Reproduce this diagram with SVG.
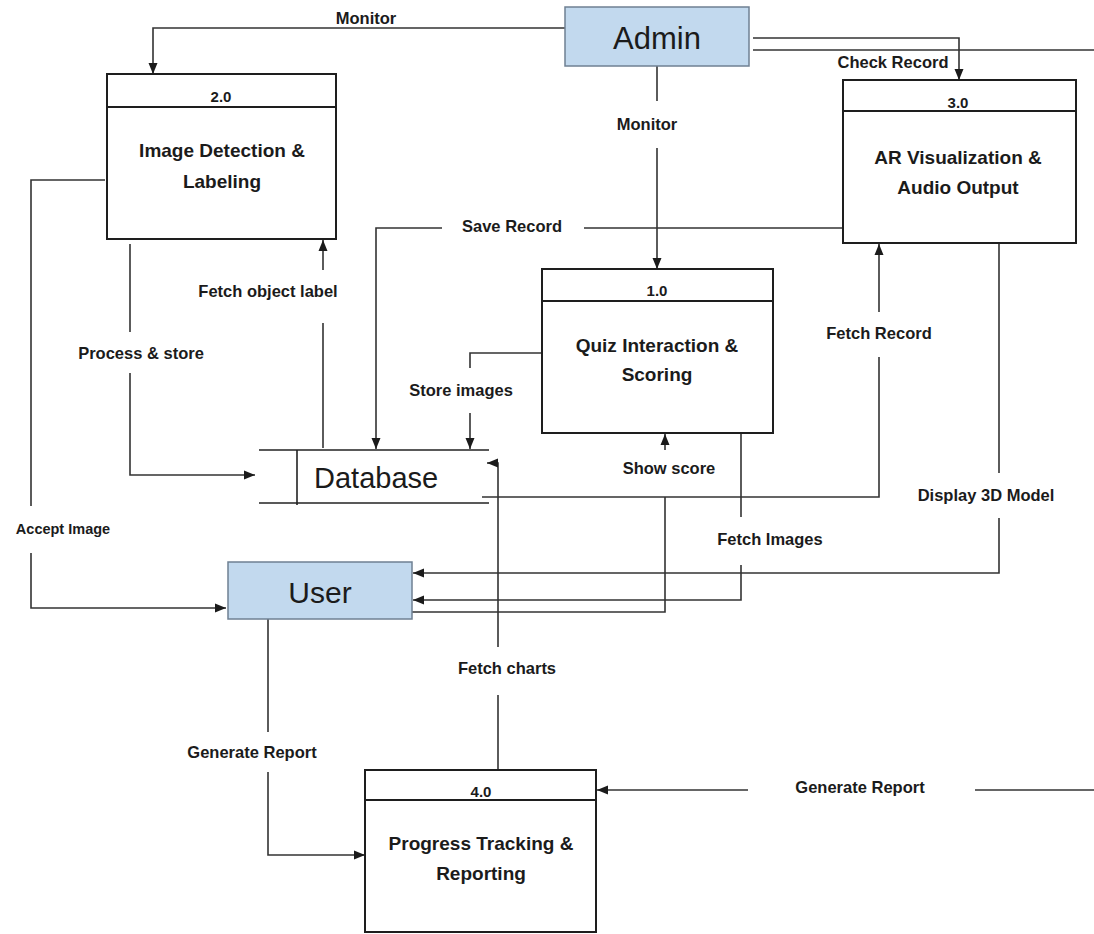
<svg xmlns="http://www.w3.org/2000/svg" width="1094" height="934" viewBox="0 0 1094 934">
<style>
.proc{fill:#fff;stroke:#1e1e1e;stroke-width:2}
.hdr{stroke:#1e1e1e;stroke-width:2}
.ent{fill:#c2d9ee;stroke:#6f8093;stroke-width:1.5}
.entt{font-family:"Liberation Sans",Arial,sans-serif;fill:#1b1b1b;text-anchor:middle}
.num{font-family:"Liberation Sans",Arial,sans-serif;font-weight:bold;font-size:15px;fill:#1b1b1b;text-anchor:middle}
.ttl{font-family:"Liberation Sans",Arial,sans-serif;font-weight:bold;font-size:19px;fill:#1b1b1b;text-anchor:middle}
.lbl{font-family:"Liberation Sans",Arial,sans-serif;font-weight:bold;font-size:16.5px;fill:#1b1b1b;text-anchor:middle}
.ln{fill:none;stroke:#333;stroke-width:1.6}
.ar{fill:none;stroke:#333;stroke-width:1.6;marker-end:url(#ah)}
.db{stroke:#222;stroke-width:1.6}
</style>
<defs>
<marker id="ah" markerUnits="userSpaceOnUse" markerWidth="12" markerHeight="12" viewBox="0 0 12 12" refX="11" refY="6" orient="auto">
<path d="M0,1.5 L11,6 L0,10.5 Z" fill="#1b1b1b"/>
</marker>
</defs>

<g id="connectors">
<!-- Monitor: Admin -> 2.0 -->
<path class="ar" d="M565,28 H153 V74"/>
<text class="lbl" x="366" y="24">Monitor</text>
<!-- Check Record: Admin -> 3.0 -->
<path class="ar" d="M753,38 H959 V80"/>
<text class="lbl" x="893" y="68">Check Record</text>
<path class="ln" d="M753,50 H1094"/>
<!-- Monitor: Admin -> 1.0 -->
<path class="ln" d="M657,66 V101"/>
<text class="lbl" x="647" y="130">Monitor</text>
<path class="ar" d="M657,148 V269"/>
<!-- Save Record: 3.0 -> Database -->
<path class="ln" d="M843,228 H584"/>
<text class="lbl" x="512" y="232">Save Record</text>
<path class="ar" d="M442,228 H376 V449"/>
<!-- Store images: 1.0 -> Database -->
<path class="ln" d="M542,353 H470 V368"/>
<text class="lbl" x="461" y="396">Store images</text>
<path class="ar" d="M470,413 V449"/>
<!-- Process & store: 2.0 -> Database -->
<path class="ln" d="M130,244 V332"/>
<text class="lbl" x="141" y="359">Process &amp; store</text>
<path class="ar" d="M130,373 V475 H255"/>
<!-- Fetch object label: Database -> 2.0 -->
<path class="ln" d="M323,448 V323"/>
<text class="lbl" x="268" y="297">Fetch object label</text>
<path class="ar" d="M323,270 V240"/>
<!-- Accept Image: 2.0 -> User -->
<path class="ln" d="M105,180 H31 V506"/>
<text class="lbl" x="63" y="534" style="font-size:14.5px">Accept Image</text>
<path class="ar" d="M31,553 V608 H226"/>
<!-- Fetch Record: Database -> 3.0 -->
<path class="ln" d="M482,497 H879 V357"/>
<text class="lbl" x="879" y="339">Fetch Record</text>
<path class="ar" d="M879,312 V244"/>
<!-- Display 3D Model: 3.0 -> User -->
<path class="ln" d="M999,244 V473"/>
<text class="lbl" x="986" y="501">Display 3D Model</text>
<path class="ar" d="M999,518 V573 H413"/>
<!-- Fetch Images: 1.0 -> User -->
<path class="ln" d="M741,432 V517"/>
<text class="lbl" x="770" y="545">Fetch Images</text>
<path class="ar" d="M741,565 V600 H413"/>
<!-- Show score: User -> 1.0 -->
<path class="ln" d="M412,612 H665 V497"/>
<text class="lbl" x="669" y="474">Show score</text>
<path class="ar" d="M665,450 V434"/>
<!-- Fetch charts: 4.0 -> Database -->
<path class="ln" d="M498,770 V695"/>
<text class="lbl" x="507" y="674">Fetch charts</text>
<path class="ar" d="M498,647 V463 H487"/>
<!-- Generate Report: User -> 4.0 -->
<path class="ln" d="M268,619 V732"/>
<text class="lbl" x="252" y="758">Generate Report</text>
<path class="ar" d="M268,772 V855 H365"/>
<!-- Generate Report: right -> 4.0 -->
<path class="ln" d="M1094,790 H975"/>
<text class="lbl" x="860" y="793">Generate Report</text>
<path class="ar" d="M748,790 H597"/>
</g>

<g id="admin">
<rect class="ent" x="565" y="7" width="184" height="59"/>
<text class="entt" x="657" y="49" font-size="31">Admin</text>
</g>

<g id="user">
<rect class="ent" x="228" y="562" width="184" height="57"/>
<text class="entt" x="320" y="603" font-size="30">User</text>
</g>

<g id="database">
<line class="db" x1="259" y1="450" x2="489" y2="450"/>
<line class="db" x1="259" y1="503" x2="489" y2="503"/>
<line class="db" x1="297" y1="450" x2="297" y2="505"/>
<text x="314" y="488" font-family="Liberation Sans, Arial, sans-serif" font-size="29" fill="#1b1b1b">Database</text>
</g>

<g id="p2">
<rect class="proc" x="107" y="74" width="229" height="165"/>
<line class="hdr" x1="107" y1="107" x2="336" y2="107"/>
<text class="num" x="221" y="102">2.0</text>
<text class="ttl" x="222" y="157">Image Detection &amp;</text>
<text class="ttl" x="222" y="188">Labeling</text>
</g>

<g id="p3">
<rect class="proc" x="843" y="80" width="233" height="163"/>
<line class="hdr" x1="843" y1="111" x2="1076" y2="111"/>
<text class="num" x="958" y="108">3.0</text>
<text class="ttl" x="958" y="164">AR Visualization &amp;</text>
<text class="ttl" x="958" y="194">Audio Output</text>
</g>

<g id="p1">
<rect class="proc" x="542" y="269" width="231" height="164"/>
<line class="hdr" x1="542" y1="301" x2="773" y2="301"/>
<text class="num" x="657" y="296">1.0</text>
<text class="ttl" x="657" y="352">Quiz Interaction &amp;</text>
<text class="ttl" x="657" y="381">Scoring</text>
</g>

<g id="p4">
<rect class="proc" x="365" y="770" width="231" height="162"/>
<line class="hdr" x1="365" y1="800" x2="596" y2="800"/>
<text class="num" x="481" y="797">4.0</text>
<text class="ttl" x="481" y="850">Progress Tracking &amp;</text>
<text class="ttl" x="481" y="880">Reporting</text>
</g>
</svg>
